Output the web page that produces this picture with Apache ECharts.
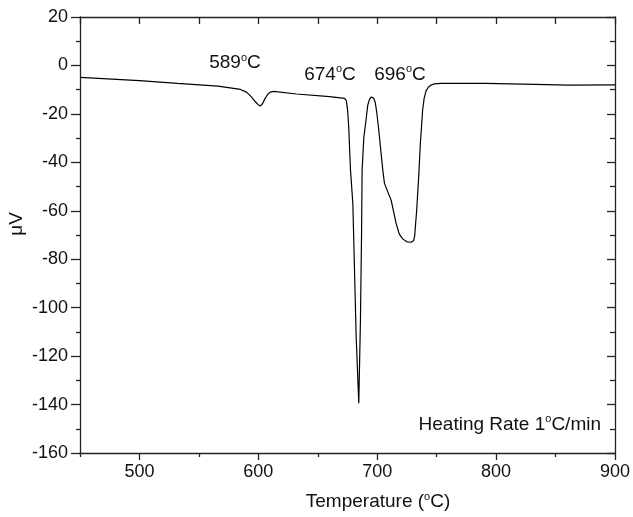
<!DOCTYPE html>
<html>
<head>
<meta charset="utf-8">
<script src="https://cdn.jsdelivr.net/npm/echarts@6/dist/echarts.min.js"></script>
<style>html,body{margin:0;padding:0;background:#fff}#c{width:633px;height:517px}</style>
</head>
<body>
<div id="c"></div>
<script>
const temps = [450,500,532,566,585,590,594,597.5,600,601.7,603.5,605.5,607.8,610,613,632,660,672.5,674,675,676,677.5,679.5,680.9,682.3,684.5,685.9,686.8,687.3,688.7,690.7,692,693.5,695,695.7,697,698.3,699.5,701,704.7,706.1,708.8,711.7,715.9,718.5,721.4,725,728.5,730.5,731.5,733.2,734.9,736.3,738.2,739.5,741.1,743,745.3,748,753.6,791,833,861,900];
const values = [-4.9,-6.3,-7.4,-8.5,-9.9,-11.0,-12.9,-15.0,-16.3,-16.7,-15.8,-13.8,-12.0,-11.0,-10.7,-11.8,-12.9,-13.6,-14.5,-18,-25,-43,-57,-84.5,-112,-139.5,-105,-70.7,-43.2,-30,-22,-16.5,-14.0,-13.0,-12.9,-13.5,-15.2,-19,-25.3,-43.2,-48.7,-52.1,-55.6,-65.2,-69.5,-71.6,-72.8,-73.0,-72.4,-70.5,-59.7,-46,-32.2,-18.4,-13.5,-10.5,-9.0,-8.1,-7.6,-7.4,-7.4,-7.8,-8.1,-8.0];
const xMajorTicks = [500,600,700,800,900];
const xMinorTicks = [450,550,650,750,850];
const xAllTicks = [450,500,550,600,650,700,750,800,850,900];
const peakLabels = ['589','674','696'];
const noteText = ['Heating Rate 1','C/min'];
const xTitle = ['Temperature (','C)'];
const yTitle = 'μV';

const FONT = 'Liberation Sans, Arial, sans-serif';
const lineCol = '#222';
const chart = echarts.init(document.getElementById('c'), null, {renderer:'canvas'});
const rich = {
  n:{fontSize:19, fontFamily:FONT, color:'#111', lineHeight:22},
  s:{fontSize:11, fontFamily:FONT, color:'#111', verticalAlign:'top', lineHeight:8}
};
function sup(a,b){ return '{n|'+a+'}{s|o}{n|'+b+'}'; }
function txt(x,y,text,align,rot){
  return {type:'text', x:x, y:y, rotation:rot||0, z:100,
    style:{text:text, rich:rich, align:align, verticalAlign:'middle', font:'19px '+FONT, fill:'#111'}};
}
const baseAxisLine = {show:true, onZero:false, lineStyle:{color:lineCol, width:1.3}};
chart.setOption({
  animation:false,
  grid:{left:80, right:17, top:17, bottom:64, containLabel:false},
  xAxis:[
    {type:'value', min:450, max:900, position:'bottom', axisLine:baseAxisLine,
     axisTick:{show:true, customValues:xMajorTicks, length:7, inside:false, lineStyle:{color:lineCol,width:1.3}},
     axisLabel:{customValues:xMajorTicks, fontSize:18, fontFamily:FONT, color:'#111', margin:10},
     splitLine:{show:false}},
    {type:'value', min:450, max:900, position:'bottom', axisLine:{show:false, onZero:false},
     axisTick:{show:true, customValues:xMinorTicks, length:4, inside:false, lineStyle:{color:lineCol,width:1.3}},
     axisLabel:{show:false}, splitLine:{show:false}},
    {type:'value', min:450, max:900, position:'top', axisLine:baseAxisLine,
     axisTick:{show:true, customValues:xAllTicks, length:7, inside:true, lineStyle:{color:lineCol,width:1.3}},
     axisLabel:{show:false}, splitLine:{show:false}}
  ],
  yAxis:[
    {type:'value', min:-160, max:20, interval:20, position:'left', axisLine:baseAxisLine,
     axisTick:{show:true, length:9, inside:false, lineStyle:{color:lineCol,width:1.3}},
     minorTick:{show:true, splitNumber:2, length:4, lineStyle:{color:lineCol,width:1.3}},
     axisLabel:{fontSize:18, fontFamily:FONT, color:'#111', margin:12},
     splitLine:{show:false}, minorSplitLine:{show:false}},
    {type:'value', min:-160, max:20, interval:20, position:'right', axisLine:baseAxisLine,
     axisTick:{show:true, length:8, inside:true, lineStyle:{color:lineCol,width:1.3}},
     minorTick:{show:true, splitNumber:2, length:5, lineStyle:{color:lineCol,width:1.3}},
     axisLabel:{show:false}, splitLine:{show:false}, minorSplitLine:{show:false}}
  ],
  series:[{
    type:'line', xAxisIndex:0, yAxisIndex:0, showSymbol:false, smooth:false,
    lineStyle:{color:'#000', width:1.2},
    data: temps.map((t,i)=>[t, values[i]])
  }],
  graphic:[
    txt(235,63,sup(peakLabels[0],'C'),'center'),
    txt(330,74.5,sup(peakLabels[1],'C'),'center'),
    txt(400,74.5,sup(peakLabels[2],'C'),'center'),
    txt(601,424.5,sup(noteText[0],noteText[1]),'right'),
    txt(378,502,sup(xTitle[0],xTitle[1]),'center'),
    txt(16.5,224,'{n|'+yTitle+'}','center',Math.PI/2)
  ]
});
</script>
</body>
</html>
